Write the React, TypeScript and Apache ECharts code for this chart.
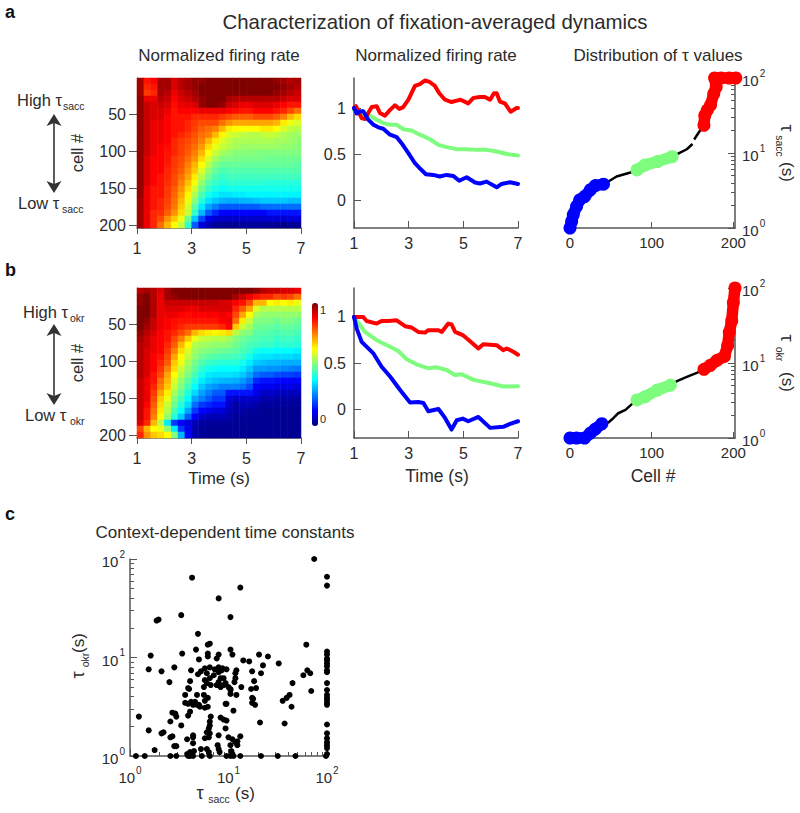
import React, { useEffect, useRef } from "react";
import * as echarts from "echarts";

const FONT = "'Liberation Sans', Arial, sans-serif";
const TXT = "#2b2b2b";
const AX = "#555555";
const RED = "#ff0000";
const GREEN = "#7dfc7d";
const BLUE = "#0000ff";

const heatColors = ["#000080", "#0000ff", "#0080ff", "#00ffff", "#80ff80", "#ffff00", "#ff8000", "#ff0000", "#800000"];
const timeTicks = [1, 3, 5, 7];
const cellTicks = [50, 100, 150, 200];
const rateTicks = [0, 0.5, 1];
const distTicks = [0, 100, 200];
const logMinorValues = [2, 3, 4, 5, 6, 7, 8, 9, 20, 30, 40, 50, 60, 70, 80, 90];

const heatA = [
  [102,90,92,102,102,96,100,102,104,104,106,106,106,106,106,106,106,106,106,106,104,102,100,102],
  [102,88,90,102,102,96,100,102,104,106,106,106,106,106,106,106,106,106,106,106,106,104,102,100],
  [102,86,88,102,100,94,98,100,102,106,106,106,106,106,106,106,106,106,106,106,104,102,100,98],
  [104,94,94,100,98,92,96,98,100,104,106,106,106,102,100,100,100,100,100,100,100,98,96,96],
  [104,98,96,98,96,91,94,95,96,104,106,106,104,98,96,94,94,96,96,96,94,92,90,90],
  [104,98,96,96,94,90,92,92,92,94,94,94,94,92,91,90,90,92,92,92,90,88,84,80],
  [104,98,96,96,92,90,90,90,88,88,88,88,86,84,82,82,82,84,84,84,82,78,72,68],
  [104,98,94,94,92,90,90,88,86,84,84,84,80,76,74,74,74,74,74,74,72,66,62,60],
  [104,98,94,94,92,90,90,88,85,82,80,78,72,66,64,64,64,64,66,66,64,60,57,56],
  [104,98,94,94,92,90,88,86,83,80,78,72,65,60,58,57,56,56,57,58,57,55,54,53],
  [104,98,94,94,92,88,86,84,82,78,72,66,60,57,55,55,55,55,55,55,54,54,53,52],
  [104,98,94,92,91,88,85,83,80,75,68,62,58,56,54,53,53,53,53,53,53,52,52,51],
  [104,98,94,92,90,88,85,82,78,72,64,58,54,52,51,51,51,50,50,50,50,50,50,50],
  [104,96,92,92,90,86,84,80,76,68,60,54,50,50,49,49,49,49,49,48,48,48,48,48],
  [104,96,92,92,89,86,83,78,72,64,56,50,47,47,47,47,47,47,47,47,47,47,47,46],
  [104,96,92,92,88,85,82,76,70,60,52,47,44,45,45,45,45,45,45,45,45,45,45,45],
  [104,96,92,90,88,84,80,74,66,56,49,44,42,43,43,43,43,43,43,43,43,43,43,43],
  [104,96,92,90,87,84,78,71,63,52,45,42,40,41,41,41,41,41,41,40,40,40,40,40],
  [104,94,90,90,86,82,76,68,59,48,42,39,37,38,38,38,38,38,38,38,38,38,38,38],
  [104,94,90,90,86,81,74,65,55,44,38,35,33,33,34,34,35,35,35,35,35,35,35,35],
  [102,94,90,88,85,80,72,62,51,40,33,30,28,27,27,28,28,29,30,30,30,30,29,29],
  [102,94,90,88,84,79,70,59,46,34,26,22,18,18,18,18,18,18,20,20,20,20,20,20],
  [102,94,88,87,82,76,68,58,42,28,18,12,8,8,8,8,8,8,8,10,10,10,10,10],
  [102,94,88,84,76,70,62,48,30,16,6,3,2,2,2,2,2,2,2,3,3,3,4,4],
  [102,94,88,80,72,64,58,42,18,4,0,-3,-4,-4,-4,-3,-3,-3,-3,-4,-4,-5,-4,-4],
];

const heatB = [
  [100,102,100,96,102,106,106,106,106,106,106,106,106,106,106,106,106,104,100,98,98,96,96,94],
  [104,106,100,94,102,104,106,106,106,106,106,106,106,106,102,98,94,90,88,88,84,86,84,80],
  [104,106,100,94,98,98,98,98,98,98,98,98,96,96,92,90,84,72,72,64,66,64,66,62],
  [106,106,100,94,96,96,96,94,94,96,96,96,96,96,88,82,74,60,56,56,56,56,56,56],
  [106,106,100,94,94,94,92,91,92,92,93,92,94,92,84,74,64,54,52,52,52,52,52,52],
  [106,104,98,94,92,91,90,90,90,90,90,90,92,94,80,66,58,50,50,50,48,50,50,48],
  [106,102,98,94,92,90,88,86,86,86,86,86,88,92,70,58,54,48,48,47,46,47,47,46],
  [104,100,96,92,90,88,84,80,72,68,66,65,66,68,56,52,50,46,46,45,44,45,45,44],
  [102,98,94,92,90,84,78,70,62,58,57,56,56,54,50,48,46,45,44,44,42,43,43,42],
  [100,98,94,92,88,82,72,64,56,54,53,52,52,51,48,46,44,43,42,42,40,41,41,40],
  [100,96,94,92,86,78,68,60,54,51,50,49,48,47,46,44,42,38,37,37,36,36,36,35],
  [100,96,92,90,84,74,64,57,52,48,46,45,44,44,43,42,38,34,33,33,32,32,32,31],
  [100,96,92,88,82,70,62,54,49,45,42,41,40,40,40,38,34,30,29,28,28,27,27,27],
  [100,96,92,86,78,68,58,52,47,41,38,37,36,36,36,34,30,25,25,24,24,23,22,21],
  [100,96,90,84,74,64,56,49,44,38,34,33,33,33,32,30,26,20,18,18,16,15,15,14],
  [98,94,90,80,72,60,52,46,40,34,31,29,28,28,27,25,21,12,10,10,9,8,8,8],
  [98,94,88,78,70,58,50,43,36,30,26,24,22,22,22,20,16,8,6,6,5,5,5,4],
  [98,94,86,74,66,54,47,39,32,26,22,18,18,10,10,10,10,6,2,2,1,1,0,1],
  [98,94,84,70,62,50,44,36,26,22,18,14,14,4,2,2,2,2,-1,-1,-2,-2,-2,-2],
  [98,92,82,68,58,48,40,32,20,14,12,10,10,2,-2,0,0,-2,-3,-3,-3,-3,-3,-3],
  [98,90,80,66,56,44,36,26,14,8,6,4,4,0,-2,-2,-3,-3,-4,-4,-4,-4,-4,-4],
  [98,90,78,64,52,40,30,18,8,2,0,0,0,-1,-3,-3,-4,-4,-4,-4,-4,-4,-4,-4],
  [96,88,72,56,34,14,8,4,0,-2,-3,-3,-3,-3,-4,-4,-4,-4,-4,-4,-4,-4,-4,-4],
  [84,72,64,62,52,34,14,6,-1,-3,-4,-4,-4,-4,-4,-4,-4,-4,-4,-4,-4,-4,-4,-4],
  [88,76,70,68,64,50,28,8,0,-3,-4,-4,-4,-4,-4,-4,-4,-4,-4,-4,-4,-4,-4,-4],
];

const aRedT = [1,1.07,1.16,1.28,1.4,1.52,1.65,1.83,1.95,2.13,2.32,2.5,2.66,2.8,2.99,3.23,3.41,3.6,3.78,3.96,4.12,4.33,4.57,4.76,4.9,5.18,5.37,5.61,5.79,5.98,6.12,6.22,6.34,6.52,6.73,6.95,7];
const aRedV = [1,1.02,0.96,0.89,0.88,0.945,1.01,1.02,0.945,0.916,0.98,1.03,0.99,1.01,1.09,1.24,1.26,1.3,1.28,1.24,1.16,1.09,1.065,1.08,1.09,1.05,1.11,1.12,1.12,1.09,1.16,1.16,1.07,1.05,0.96,1,1];
const aGreenT = [1,1.22,1.585,1.83,2.07,2.32,2.56,2.8,3.11,3.41,3.78,4.09,4.39,4.76,5.12,5.49,5.85,6.22,6.59,7];
const aGreenV = [0.98,0.927,0.916,0.873,0.836,0.818,0.818,0.77,0.756,0.71,0.66,0.6,0.575,0.553,0.553,0.545,0.545,0.527,0.5,0.484];
const aBlueT = [1,1.1,1.24,1.34,1.52,1.71,1.89,2.07,2.32,2.56,2.74,2.99,3.23,3.41,3.63,3.9,4.14,4.39,4.63,4.85,5.12,5.43,5.61,5.85,6.22,6.4,6.71,7];
const aBlueV = [1,0.94,0.964,0.964,0.873,0.818,0.79,0.775,0.71,0.684,0.618,0.51,0.4,0.345,0.28,0.273,0.255,0.273,0.262,0.21,0.247,0.19,0.18,0.2,0.138,0.175,0.193,0.175];

const bRedT = [1,1.34,1.46,1.83,2.01,2.26,2.56,2.87,3.11,3.35,3.6,3.72,4.09,4.21,4.45,4.57,4.7,5,5.3,5.55,5.73,6.22,6.46,6.59,6.83,7];
const bRedV = [1,1,0.957,0.928,0.957,0.957,0.964,0.9,0.885,0.838,0.83,0.856,0.856,0.838,0.928,0.92,0.838,0.8,0.723,0.658,0.705,0.694,0.64,0.658,0.622,0.59];
const bGreenT = [1,1.22,1.4,1.83,2.32,2.62,2.93,3.29,3.72,4.02,4.39,4.7,4.94,5.37,5.98,6.46,7];
const bGreenV = [1,0.91,0.838,0.748,0.676,0.63,0.54,0.486,0.442,0.453,0.424,0.37,0.378,0.317,0.28,0.245,0.248];
const bBlueT = [1,1.1,1.28,1.71,2.01,2.32,2.68,3.05,3.35,3.54,3.72,4.09,4.33,4.57,4.76,4.98,5.18,5.55,5.98,6.46,6.71,7];
const bBlueV = [1,0.874,0.73,0.604,0.46,0.353,0.209,0.072,0.076,0.065,-0.025,0,-0.097,-0.223,-0.122,-0.104,-0.133,-0.086,-0.205,-0.194,-0.162,-0.133];

const aDistBlueCell = [0,2,4,8,12,18,25,31,41];
const aDistBlueLog = [0,0.088,0.177,0.288,0.376,0.42,0.51,0.566,0.584];
const aDistBlackCell = [41,47,57,74,82,125,133,143,150,null,152,158,164];
const aDistBlackLog = [0.584,0.62,0.686,0.74,0.774,0.95,0.995,1.05,1.12,null,1.18,1.28,1.37];
const aDistGreenCell = [82,92,107,125];
const aDistGreenLog = [0.774,0.84,0.885,0.95];
const aDistRedCell = [164,165,168,172,176,179,177,185,195,203];
const aDistRedLog = [1.37,1.5,1.57,1.637,1.79,1.88,2,2,2,2];

const bDistBlueCell = [0,8,18,25,31,39];
const bDistBlueLog = [0,0,0,0.066,0.119,0.19];
const bDistBlackCell = [39,47,53,59,68,76,82,123,131,143,156,164];
const bDistBlackLog = [0.19,0.207,0.264,0.33,0.374,0.454,0.507,0.705,0.758,0.815,0.872,0.916];
const bDistGreenCell = [82,92,107,123];
const bDistGreenLog = [0.507,0.55,0.64,0.705];
const bDistRedCell = [164,172,180,189,193,195,198,200,202];
const bDistRedLog = [0.916,0.97,1.035,1.088,1.233,1.41,1.564,1.806,2];

const ctxSaccLog = [0.06,0.15,0.41,0.47,0.59,0.61,0.64,0.73,0.81,0.98,1.02,1.05,1.12,1.33,1.5,1.68,1.99,
  2,2,2,2,2,2,2,2,2,2,2,2,2,2,2,2,2,2,2,2,2,2,2,2,
  1.87,0.63,1.12,0.9,1.02,0.52,0.27,0.29,0.69,0.21,0.53,0.67,0.7,0.79,0.81,0.79,0.79,1.02,1.04,0.9,0.88,1.15,1.21,1.31,1.4,1.51,1.79,
  0.19,0.32,0.45,0.4,0.62,0.69,0.72,0.76,0.81,0.86,0.9,0.94,0.98,0.78,0.85,0.9,0.93,1.08,1.07,1.07,1.06,1.24,1.26,1.23,1.28,1.33,1.35,1.76,1.8,1.83,1.84,1.65,
  0.61,0.6,0.59,0.76,0.81,0.78,0.82,0.75,0.88,0.92,0.95,0.9,0.97,1,1.02,0.92,0.95,1.02,1.02,1.13,1.08,
  0.56,0.68,0.75,0.79,0.76,0.66,0.56,0.59,0.62,0.65,0.7,0.68,0.71,0.76,0.79,0.59,0.61,0.64,0.97,0.98,1.05,
  0.92,0.95,0.98,0.82,0.81,0.81,0.8,0.78,0.76,0.8,0.81,0.9,0.97,1,1.04,1.07,1.09,1.12,1.24,1.27,1.25,1.24,1.32,1.55,1.59,1.62,1.64,1.57,
  0.09,0.19,0.25,0.32,0.34,0.41,0.46,0.43,0.47,0.52,0.41,0.43,0.45,0.47,0.58,0.64,0.64,0.64,0.72,0.78,0.89,0.9,0.91,0.61,0.65,0.58,1.02,1.03,1.04,1.09,0.8];
const ctxOkrLog = [0,0,0,0,0,0,0,0,0,0,0,0,0,0,0,0,0,
  1.82,1.73,1.06,1.03,0.99,0.97,0.94,0.91,0.87,0.85,0.74,0.67,0.62,0.59,0.57,0.54,0.52,0.32,0.23,0.18,0.14,0.11,0.08,0.02,
  2,1.81,1.71,1.6,1.41,1.43,1.375,1.385,1.24,1.02,1.04,1.08,0.98,1.13,1.14,1.04,1.01,1.08,1.03,1.03,0.99,0.97,0.96,1.03,1.01,0.94,1.13,
  0.88,0.86,0.9,0.75,0.87,0.83,0.86,0.89,0.9,0.88,0.9,0.89,0.88,0.84,0.82,0.85,0.87,0.87,0.84,0.79,0.75,0.86,0.76,0.68,0.69,0.84,0.92,0.82,0.87,0.84,0.66,0.74,
  0.76,0.68,0.69,0.77,0.79,0.74,0.72,0.7,0.72,0.79,0.79,0.75,0.74,0.7,0.67,0.7,0.72,0.63,0.68,0.7,0.62,
  0.62,0.62,0.62,0.59,0.56,0.55,0.54,0.53,0.55,0.54,0.52,0.52,0.5,0.49,0.5,0.41,0.45,0.52,0.53,0.53,0.46,
  0.39,0.37,0.36,0.4,0.35,0.31,0.28,0.24,0.18,0.19,0.23,0.21,0.28,0.19,0.17,0.14,0.15,0.2,0.54,0.52,0.58,0.59,0.34,0.56,0.59,0.62,0.5,0.33,
  0.4,0.26,0.06,0.23,0.24,0.35,0.43,0.44,0.4,0.31,0.19,0.2,0.1,0.1,0.17,0.21,0.19,0.13,0.07,0.07,0.11,0.07,0.04,0.04,0.05,0.02,0.11,0.05,0.02,0.11,0.04];

const pairs = (xs: any[], ys: any[]) => xs.map((x, i) => [x, ys[i]]);
const logPairs = (xs: any[], ys: any[]) => xs.map((x, i) => (x === null ? [null, null] : [x, Math.pow(10, ys[i])]));
const grid3 = (m: number[][]) => {
  const out: number[][] = [];
  m.forEach((row, r) => row.forEach((v, c) => out.push([c, r, v])));
  return out;
};

const tickLabel = { color: TXT, fontFamily: FONT, fontSize: 15 };
const expRich = {
  b: { fontFamily: FONT, fontSize: 15, color: TXT, lineHeight: 20, verticalAlign: "bottom" },
  e: { fontFamily: FONT, fontSize: 10, color: TXT, lineHeight: 20, verticalAlign: "top", padding: [0, 0, 0, 1] },
};
const expFmt = (v: number) => `{b|10}{e|${Math.round(Math.log10(v))}}`;
const axLine = { show: true, onZero: false, lineStyle: { color: AX, width: 1.5 } };

// tick-only overlay: the minor decades of a log axis, placed on the exponent scale
const minorOverlay = (gridIndex: number, position: string) => ({
  type: "value", gridIndex, position, min: 0, max: 2, splitLine: { show: false }, axisLine: { show: false, onZero: false }, axisLabel: { show: false },
  axisTick: { show: true, inside: true, length: 4, customValues: logMinorValues.map((v) => Math.log10(v)), lineStyle: { color: AX } },
});

function text(x: number, y: number, s: string, size: number, o: any = {}) {
  const { rotation, ...st } = o;
  return {
    type: "text", x, y, rotation: rotation || 0, silent: true,
    style: { text: s, fontFamily: FONT, fontSize: size, fill: TXT, align: "left", verticalAlign: "middle", ...st },
  };
}

function buildOption() {
  const grid: any[] = [];
  const xAxis: any[] = [];
  const yAxis: any[] = [];
  const series: any[] = [];
  const heatIdx: number[] = [];

  const addHeat = (top: number, m: number[][]) => {
    const g = grid.length;
    grid.push({ left: 137, top, width: 164, height: 150 });
    const xi = xAxis.length;
    const yi = yAxis.length;
    xAxis.push({ type: "category", gridIndex: g, show: false, data: m[0].map((_, i) => i) });
    yAxis.push({ type: "category", gridIndex: g, show: false, inverse: true, data: m.map((_, i) => i) });
    xAxis.push({
      type: "value", gridIndex: g, min: 1, max: 7, position: "bottom", splitLine: { show: false },
      axisLine: axLine, axisTick: { show: true, length: 6, customValues: timeTicks, lineStyle: { color: AX } },
      axisLabel: { ...tickLabel, fontSize: 16, margin: 12, customValues: timeTicks },
    });
    yAxis.push({
      type: "value", gridIndex: g, min: 1, max: 204, inverse: true, position: "left", splitLine: { show: false },
      axisLine: { ...axLine, lineStyle: { color: AX, width: 1 } },
      axisTick: { show: true, length: 8, customValues: cellTicks, lineStyle: { color: AX } },
      axisLabel: { ...tickLabel, fontSize: 16, margin: 11, customValues: cellTicks },
    });
    heatIdx.push(series.length);
    series.push({ type: "heatmap", xAxisIndex: xi, yAxisIndex: yi, data: grid3(m), itemStyle: { borderWidth: 0 }, progressive: 0, animation: false });
  };

  const addLines = (top: number, min: number, max: number, lines: [number[], number[], string][]) => {
    const g = grid.length;
    grid.push({ left: 354, top, width: 164, height: 150 });
    const xi = xAxis.length;
    const yi = yAxis.length;
    xAxis.push({
      type: "value", gridIndex: g, min: 1, max: 7, splitLine: { show: false },
      axisLine: axLine, axisTick: { show: true, inside: true, length: 7, customValues: timeTicks, lineStyle: { color: AX } },
      axisLabel: { ...tickLabel, fontSize: 16, margin: 7, customValues: timeTicks },
    });
    yAxis.push({
      type: "value", gridIndex: g, min, max, splitLine: { show: false },
      axisLine: axLine, axisTick: { show: true, inside: true, length: 7, customValues: rateTicks, lineStyle: { color: AX } },
      axisLabel: { ...tickLabel, fontSize: 16, margin: 8, customValues: rateTicks },
    });
    lines.forEach(([t, v, color]) => {
      series.push({
        type: "line", xAxisIndex: xi, yAxisIndex: yi, data: pairs(t, v), showSymbol: false, symbol: "none",
        lineStyle: { color, width: 4, join: "round", cap: "round" }, clip: false, z: color === RED ? 3 : color === GREEN ? 2 : 4,
      });
    });
  };

  const addDist = (top: number, black: [any[], any[]], blobs: [number[], number[], string][]) => {
    const g = grid.length;
    grid.push({ left: 570, top, width: 165, height: 150 });
    const xi = xAxis.length;
    const yi = yAxis.length;
    xAxis.push({
      type: "value", gridIndex: g, min: 0, max: 202, splitLine: { show: false },
      axisLine: axLine, axisTick: { show: true, inside: true, length: 6, customValues: distTicks, lineStyle: { color: AX } },
      axisLabel: { ...tickLabel, fontSize: 15, margin: 7, customValues: distTicks },
    });
    yAxis.push({
      type: "log", logBase: 10, gridIndex: g, min: 1, max: 100, position: "right", splitLine: { show: false },
      axisLine: axLine, axisTick: { show: true, inside: true, length: 7, lineStyle: { color: AX } },
      axisLabel: { formatter: expFmt, rich: expRich, margin: 7, color: TXT },
    });
    yAxis.push(minorOverlay(g, "right"));
    series.push({
      type: "line", xAxisIndex: xi, yAxisIndex: yi, data: logPairs(black[0], black[1]), showSymbol: false, symbol: "none", connectNulls: false,
      lineStyle: { color: "#000", width: 2.5 }, clip: false, z: 2,
    });
    blobs.forEach(([c, l, color]) => {
      series.push({
        type: "line", xAxisIndex: xi, yAxisIndex: yi, data: logPairs(c, l), symbol: "circle", symbolSize: 13, showSymbol: true,
        itemStyle: { color }, lineStyle: { color, width: 11.5, join: "round", cap: "round" }, clip: false, z: 3,
      });
    });
  };

  addHeat(78, heatA);
  addLines(78, -0.304, 1.326, [[aRedT, aRedV, RED], [aGreenT, aGreenV, GREEN], [aBlueT, aBlueV, BLUE]]);
  addDist(78, [aDistBlackCell, aDistBlackLog], [[aDistBlueCell, aDistBlueLog, BLUE], [aDistGreenCell, aDistGreenLog, GREEN], [aDistRedCell, aDistRedLog, RED]]);
  addHeat(288, heatB);
  addLines(288, -0.315, 1.315, [[bRedT, bRedV, RED], [bGreenT, bGreenV, GREEN], [bBlueT, bBlueV, BLUE]]);
  addDist(288, [bDistBlackCell, bDistBlackLog], [[bDistBlueCell, bDistBlueLog, BLUE], [bDistGreenCell, bDistGreenLog, GREEN], [bDistRedCell, bDistRedLog, RED]]);

  // panel c
  const g = grid.length;
  grid.push({ left: 130, top: 559, width: 197, height: 197 });
  const xi = xAxis.length;
  const yi = yAxis.length;
  xAxis.push({
    type: "log", logBase: 10, gridIndex: g, min: 1, max: 100, splitLine: { show: false },
    axisLine: axLine, axisTick: { show: true, inside: true, length: 7, lineStyle: { color: AX } },
    axisLabel: { formatter: expFmt, rich: expRich, margin: 9, color: TXT },
  });
  xAxis.push(minorOverlay(g, "bottom"));
  yAxis.push({
    type: "log", logBase: 10, gridIndex: g, min: 1, max: 100, splitLine: { show: false },
    axisLine: axLine, axisTick: { show: true, inside: true, length: 7, lineStyle: { color: AX } },
    axisLabel: { formatter: expFmt, rich: expRich, margin: 5, color: TXT },
  });
  yAxis.push(minorOverlay(g, "left"));
  series.push({
    type: "scatter", xAxisIndex: xi, yAxisIndex: yi, symbolSize: 6,
    data: ctxSaccLog.map((x, i) => [Math.pow(10, x), Math.pow(10, ctxOkrLog[i])]),
    itemStyle: { color: "#000", opacity: 1 }, clip: false, z: 3,
  });

  const arrow = (x: number, y0: number, y1: number) => ([
    { type: "line", silent: true, shape: { x1: x, y1: y0 + 6, x2: x, y2: y1 - 6 }, style: { stroke: "#333", lineWidth: 1.6 } },
    { type: "polygon", silent: true, shape: { points: [[x, y0], [x + 7.5, y0 + 12], [x, y0 + 9], [x - 7.5, y0 + 12]] }, style: { fill: "#333" } },
    { type: "polygon", silent: true, shape: { points: [[x, y1], [x + 7.5, y1 - 12], [x, y1 - 9], [x - 7.5, y1 - 12]] }, style: { fill: "#333" } },
  ]);

  const graphic = [
    text(5, 12, "a", 18, { fontWeight: "bold", fill: "#111" }),
    text(5, 270, "b", 18, { fontWeight: "bold", fill: "#111" }),
    text(5, 514, "c", 18, { fontWeight: "bold", fill: "#111" }),
    text(435, 22, "Characterization of fixation-averaged dynamics", 20.4, { align: "center" }),
    text(219, 55, "Normalized firing rate", 17, { align: "center" }),
    text(436, 55, "Normalized firing rate", 17, { align: "center" }),
    text(658, 55, "Distribution of τ values", 17, { align: "center" }),
    text(225, 532, "Context-dependent time constants", 17, { align: "center" }),
    text(17, 100, "High τ", 16.5), text(63, 106, "sacc", 10.5),
    text(18, 203, "Low τ", 16.5), text(62, 209, "sacc", 10.5),
    text(23, 312, "High τ", 16.5), text(70, 318, "okr", 10.5),
    text(25, 415, "Low τ", 16.5), text(70, 421, "okr", 10.5),
    text(77, 153, "cell #", 16.5, { align: "center", rotation: Math.PI / 2 }),
    text(77, 363, "cell #", 16.5, { align: "center", rotation: Math.PI / 2 }),
    ...arrow(54, 114, 193),
    ...arrow(54, 324, 405),
    text(219, 478, "Time (s)", 17, { align: "center" }),
    text(437, 476, "Time (s)", 17.5, { align: "center" }),
    text(653, 476, "Cell #", 17.5, { align: "center" }),
    text(787, 128, "τ", 18, { align: "center", rotation: -Math.PI / 2 }),
    text(780, 146, "sacc", 10.5, { align: "center", rotation: -Math.PI / 2 }),
    text(787, 172, "(s)", 17, { align: "center", rotation: -Math.PI / 2 }),
    text(787, 338, "τ", 18, { align: "center", rotation: -Math.PI / 2 }),
    text(780, 354, "okr", 10.5, { align: "center", rotation: -Math.PI / 2 }),
    text(787, 382, "(s)", 17, { align: "center", rotation: -Math.PI / 2 }),
    text(200, 793, "τ", 18, { align: "center" }),
    text(219, 799, "sacc", 10.5, { align: "center" }),
    text(245, 793, "(s)", 17, { align: "center" }),
    text(78, 675, "τ", 18, { align: "center", rotation: Math.PI / 2 }),
    text(85, 660, "okr", 10.5, { align: "center", rotation: Math.PI / 2 }),
    text(78, 643, "(s)", 17, { align: "center", rotation: Math.PI / 2 }),
    text(320, 310, "1", 11),
    text(320, 419, "0", 11),
  ];

  return {
    animation: false,
    backgroundColor: "#ffffff",
    textStyle: { fontFamily: FONT },
    grid, xAxis, yAxis, series, graphic,
    visualMap: {
      type: "continuous", min: -6, max: 106, seriesIndex: heatIdx, left: 312, top: 303, itemWidth: 6, itemHeight: 123,
      calculable: false, realtime: false, text: ["", ""], showLabel: false, inRange: { color: heatColors }, padding: 0, borderWidth: 0,
    },
  };
}

export default function App() {
  const ref = useRef<HTMLDivElement>(null);
  useEffect(() => {
    document.body.style.margin = "0";
    const chart = echarts.init(ref.current!, undefined, { renderer: "svg" });
    chart.setOption(buildOption() as any);
    return () => chart.dispose();
  }, []);
  return <div ref={ref} style={{ width: 800, height: 813 }} />;
}
